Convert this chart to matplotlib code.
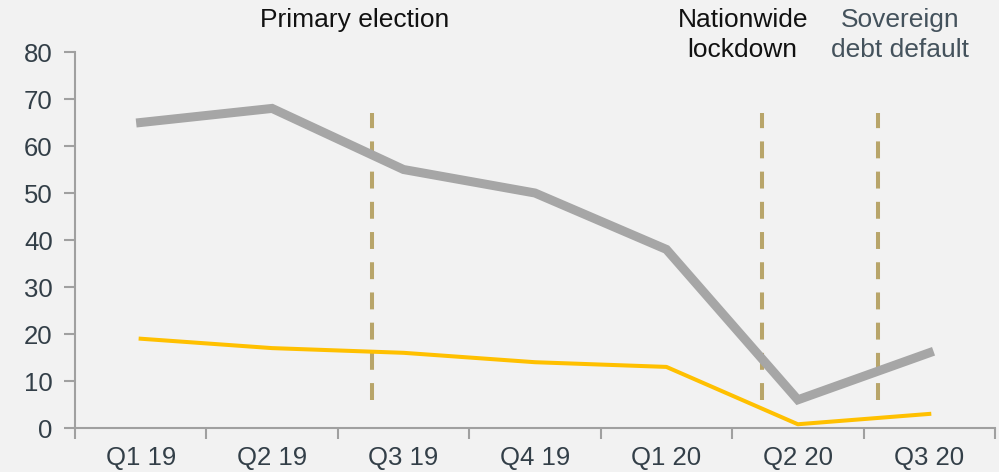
import matplotlib
matplotlib.use("Agg")
import matplotlib.pyplot as plt
from matplotlib.transforms import blended_transform_factory

categories = ["Q1 19", "Q2 19", "Q3 19", "Q4 19", "Q1 20", "Q2 20", "Q3 20"]
gray_series = [65, 68, 55, 50, 38, 6, 16]
yellow_series = [19, 17, 16, 14, 13, 0.8, 3]
event_positions = [1.76, 4.73, 5.61]
event_labels = ["Primary election", "Nationwide\nlockdown", "Sovereign\ndebt default"]
event_label_x = [1.63, 4.58, 5.78]
event_label_colors = ["#111111", "#111111", "#44525c"]
y_ticks = [0, 10, 20, 30, 40, 50, 60, 70, 80]

plt.rcParams["font.family"] = ["Liberation Sans", "DejaVu Sans"]
bg = "#f2f2f2"
fig = plt.figure(figsize=(9.99, 4.72), dpi=100, facecolor=bg)
ax = fig.add_axes([0.075, 0.0932, 0.921, 0.7966], facecolor=bg)

x = list(range(len(categories)))
for ex in event_positions:
    ax.plot([ex, ex], [6, 67], color="#b8a56a", lw=2.9, dashes=(4.2, 3.3), zorder=1)
ax.plot(x, gray_series, color="#a6a6a6", lw=6.5, zorder=2, solid_joinstyle="miter")
ax.plot(x, yellow_series, color="#ffc000", lw=2.9, zorder=3)

ax.set_xlim(-0.5, len(categories) - 0.5)
ax.set_ylim(0, 80)
ax.set_yticks(y_ticks)
ax.set_xticks([i - 0.5 for i in range(len(categories) + 1)])
ax.set_xticklabels([])
ax.set_xticks(x, minor=True)
ax.set_xticklabels(categories, minor=True)
ax.tick_params(axis="x", which="minor", length=0, pad=13, labelsize=18.5, labelcolor="#333f48")
ax.tick_params(axis="x", which="major", length=8, width=1.5, color="#a0a0a0", direction="out")
ax.tick_params(axis="y", length=8, width=1.5, color="#a0a0a0", labelsize=18.5, labelcolor="#333f48", pad=8)

for s in ["top", "right"]:
    ax.spines[s].set_visible(False)
for s in ["left", "bottom"]:
    ax.spines[s].set_color("#a0a0a0")
    ax.spines[s].set_linewidth(1.5)

tr = blended_transform_factory(ax.transData, fig.transFigure)
for lx, lab, c in zip(event_label_x, event_labels, event_label_colors):
    ax.text(lx, 1 - 8 / 472, lab, transform=tr, ha="center", va="top", fontsize=19,
            color=c, linespacing=1.3, clip_on=False)

fig.savefig("out.png", dpi=100, facecolor=bg)
